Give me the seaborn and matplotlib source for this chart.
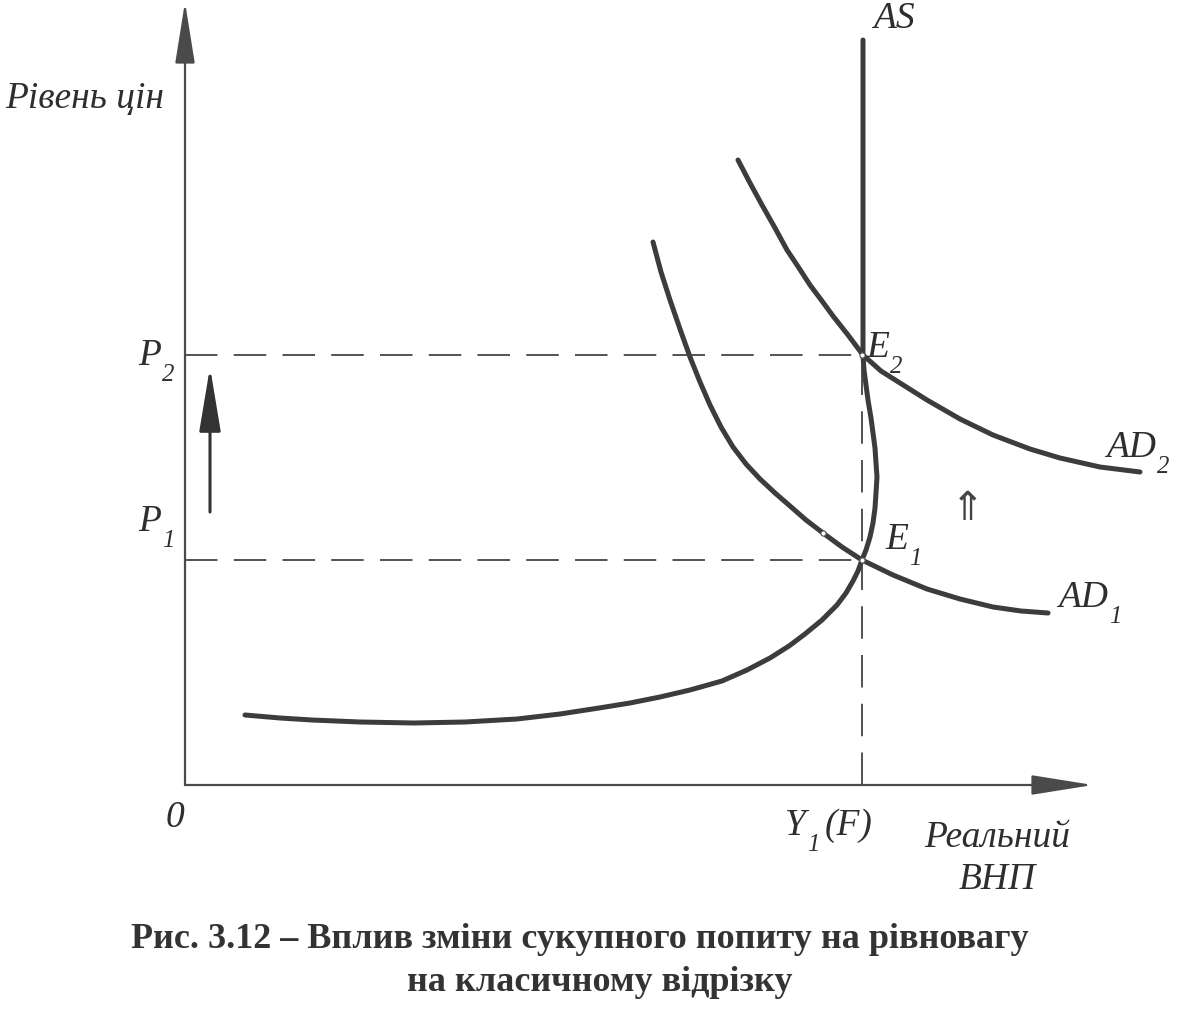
import numpy as np
import pandas as pd
import matplotlib.pyplot as plt
import seaborn as sns

as_x = [60, 95, 127, 175, 229, 280, 332, 375, 414, 445, 475, 505, 537, 562, 585, 604, 620, 637,
        652, 661, 668, 673, 677, 681, 685, 688, 690, 691, 692, 691, 690, 688, 686, 683, 681, 679,
        678, 678]
as_y = [70, 67, 65, 63, 62, 63, 66, 71, 77, 82, 88, 95, 104, 115, 127, 139, 151, 165,
        180, 192, 204, 214, 225, 235, 248, 262, 277, 292, 308, 322, 337, 352, 367, 385, 400, 415,
        430, 745]

ad1_x = [468, 476, 485, 495, 505, 515, 525, 536, 548, 561, 575, 590, 605, 621, 638, 657, 677,
         708, 742, 775, 808, 836, 863]
ad1_y = [543, 513, 485, 456, 428, 403, 380, 358, 338, 321, 306, 292, 279, 265, 252, 238, 225,
         210, 196, 186, 178, 174, 172]

ad2_x = [553, 565, 577, 590, 602, 614, 625, 637, 648, 663, 678, 696, 715, 742, 775, 808, 845,
         875, 915, 955]
ad2_y = [625, 602, 580, 557, 535, 517, 500, 484, 469, 450, 430, 414, 402, 385, 366, 350, 336,
         327, 318, 313]

y1 = 677
p1, p2 = 225, 430
extra_pt = (638, 252)

sns.set_style("white")

ink = "#3c3c3c"
fig = plt.figure(figsize=(12.04, 10.29), dpi=100)
ax = fig.add_axes([0, 0, 1, 1])
ax.set_xlim(-185, 1019)
ax.set_ylim(-244, 785)
ax.axis("off")

curves = pd.concat([
    pd.DataFrame({"Y": as_x, "P": as_y, "curve": "AS"}),
    pd.DataFrame({"Y": ad1_x, "P": ad1_y, "curve": "AD1"}),
    pd.DataFrame({"Y": ad2_x, "P": ad2_y, "curve": "AD2"}),
])
sns.lineplot(data=curves, x="Y", y="P", units="curve", estimator=None, sort=False,
             color=ink, lw=3.6, ax=ax, solid_capstyle="round", solid_joinstyle="round")

# dashed guides
dash = dict(color="#444444", lw=1.3, dashes=(18, 9))
ax.plot([0, y1], [p2, p2], **dash)
ax.plot([0, y1], [p1, p1], **dash)
ax.plot([y1, y1], [0, p2], **dash)

# axes with arrows
arr = dict(arrowstyle="-|>,head_length=1.75,head_width=0.28", color="#4a4a4a", lw=1.6,
           mutation_scale=22, shrinkA=0, shrinkB=0)
ax.annotate("", xy=(0, 783), xytext=(0, 0), arrowprops=arr)
ax.annotate("", xy=(908, 0), xytext=(0, 0), arrowprops=arr)
ax.annotate("", xy=(25, 418), xytext=(25, 273),
            arrowprops=dict(arrowstyle="-|>,head_length=1.8,head_width=0.3", color="#333333",
                            lw=2.2, mutation_scale=22, shrinkA=0, shrinkB=0))

# equilibrium markers
ax.scatter([y1, y1, extra_pt[0]], [p1, p2, extra_pt[1]], s=14, facecolor="white",
           edgecolor="#555555", lw=0.8, zorder=5)

fs = 27
lab = dict(fontsize=fs, color="#2e2e2e", family="Liberation Serif", style="italic")


def sub_label(x, y, main, sub, ha="left"):
    t = ax.text(x, y, main, ha=ha, va="baseline", **lab)
    ax.annotate(sub, xy=(1, 0), xycoords=t, xytext=(1, -6), textcoords="offset points",
                ha="left", va="baseline", fontsize=fs * 0.66, color="#2e2e2e",
                family="Liberation Serif", style="italic")


ax.text(688, 757, "AS", ha="left", va="baseline", **lab)
sub_label(873, 178, "AD", "1")
sub_label(921, 328, "AD", "2")
sub_label(700, 236, "E", "1")
sub_label(681, 428, "E", "2")
sub_label(-47, 420, "P", "2")
sub_label(-47, 254, "P", "1")
ax.text(-10, -42, "0", ha="center", va="baseline", **lab)
sub_label(600, -50, "Y", "1")
ax.text(640, -50, "(F)", ha="left", va="baseline", **lab)
ax.text(812, -62, "Реальний", ha="center", va="baseline", **lab)
ax.text(812, -104, "ВНП", ha="center", va="baseline", **lab)
ax.text(-100, 677, "Рівень цін", ha="center", va="baseline", **lab)
ax.text(783, 276, "⇑", ha="center", va="center", fontsize=29, color="#444444",
        family="DejaVu Sans", style="italic")

cap = dict(fontsize=26, weight="bold", family="Liberation Serif", color="#333333", ha="center")
fig.text(580 / 1204, 1 - 948 / 1029, "Рис. 3.12 – Вплив зміни сукупного попиту на рівновагу", **cap)
fig.text(600 / 1204, 1 - 991 / 1029, "на класичному відрізку", **cap)

fig.savefig("out.png", dpi=100, facecolor="white")
